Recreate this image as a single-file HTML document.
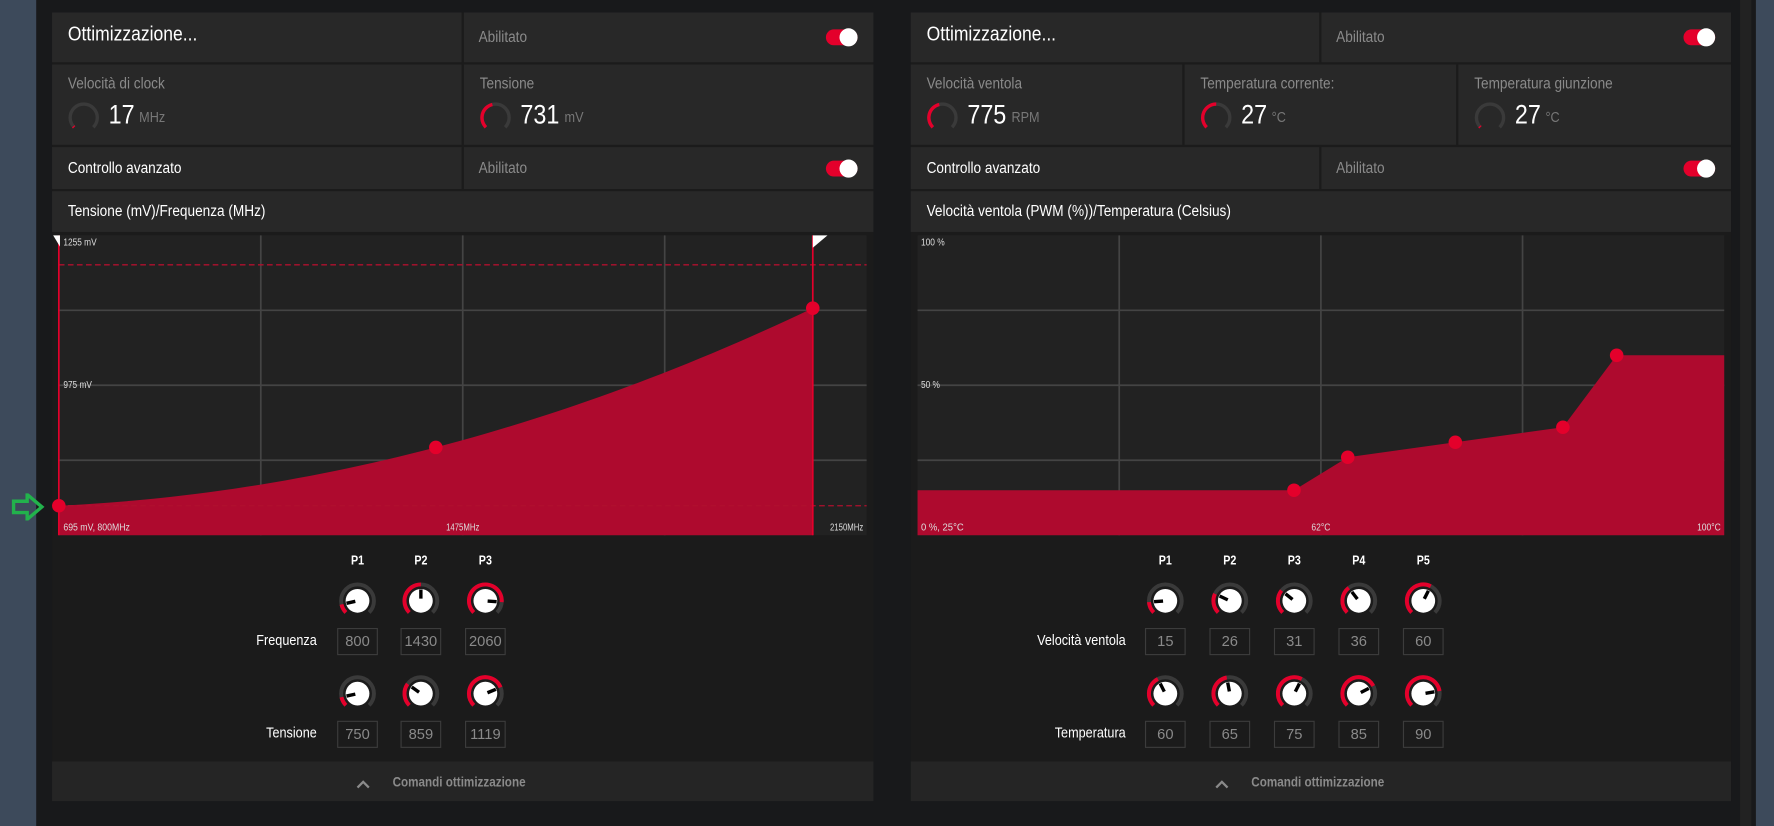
<!DOCTYPE html>
<html><head><meta charset="utf-8">
<style>
html,body{margin:0;padding:0;width:1774px;height:826px;overflow:hidden;background:#18191b;}
#root{position:absolute;left:0;top:0;width:1568px;height:730px;transform:scale(1.13138,1.13151);transform-origin:0 0;font-family:"Liberation Sans Narrow","Liberation Sans",sans-serif;background:#18191b;}
.abs{position:absolute;}
.cell{position:absolute;background:#282828;}
.t{position:absolute;white-space:nowrap;transform:scaleX(0.86);transform-origin:0 0;}
.tog{position:absolute;width:28px;height:14px;border-radius:7px;background:#e4002b;}
.tog::after{content:"";position:absolute;right:0;top:-1px;width:16px;height:16px;border-radius:8px;background:#fff;}
.box{position:absolute;width:34px;height:22px;border:1px solid #3c3c3c;color:#8a8a8a;font-size:13px;text-align:center;line-height:22px;}
</style></head><body>
<div id="root">
<div class="abs" style="left:0;top:0;width:32px;height:730px;background:#3d4a5b"></div>
<div class="abs" style="left:1552px;top:0;width:16px;height:730px;background:#3d4a5b"></div>
<div class="abs" style="left:1538px;top:0;width:10px;height:730px;background:#222"></div>
<div id="panels"></div>
<div class="abs" style="left:10px;top:436px;">
<svg width="30" height="24"><path d="M2 7 H14 V1 L27 12 L14 23 V17 H2 Z" fill="none" stroke="#22b24c" stroke-width="3"/></svg></div>
</div>
<script>
// ---- Chart data ----
const vfFreq = [800, 1430, 2060];
const vfVolt = [750, 859, 1119];
const vfXTicks = ["695 mV, 800MHz", "1475MHz", "2150MHz"];
const vfYTicks = ["1255 mV", "975 mV"];
const vfVoltMax = 1200;
const fanTemp = [60, 65, 75, 85, 90];
const fanSpeed = [15, 26, 31, 36, 60];
const fanXTicks = ["0 %, 25°C", "62°C", "100°C"];
const fanYTicks = ["100 %", "50 %"];
const NS="http://www.w3.org/2000/svg";
const root=document.getElementById('panels');
function div(cls,style,name,inter,text){const d=document.createElement('div');d.className=cls;d.style.cssText=style;


if(text!==undefined)d.textContent=text;root.appendChild(d);return d;}
function sv(tag,attrs,parent){const e=document.createElementNS(NS,tag);for(const k in attrs)e.setAttribute(k,attrs[k]);parent.appendChild(e);return e;}

function header(x,w,split){
 div('abs',`left:${x}px;top:11px;width:${w}px;height:697px;background:#1b1b1b`,'panel',false);
 div('cell',`left:${x}px;top:11px;width:${split-x-1}px;height:44px`,'panel-title-cell',false);
 div('t',`left:${x+14}px;top:20px;color:#fff;font-size:18px`,'panel-title',false,'Ottimizzazione...');
 div('cell',`left:${split+1}px;top:11px;width:${x+w-split-1}px;height:44px`,'enabled-cell',false);
 div('t',`left:${split+14}px;top:24px;color:#8a8a8a;font-size:14px`,'enabled-label',false,'Abilitato');
 div('tog',`left:${x+w-42}px;top:26px`,'tuning-toggle',true);
 div('cell',`left:${x}px;top:130px;width:${split-x-1}px;height:37px`,'advanced-control-cell',false);
 div('t',`left:${x+14}px;top:140px;color:#fff;font-size:14px`,'advanced-control-label',false,'Controllo avanzato');
 div('cell',`left:${split+1}px;top:130px;width:${x+w-split-1}px;height:37px`,'advanced-enabled-cell',false);
 div('t',`left:${split+14}px;top:140px;color:#8a8a8a;font-size:14px`,'advanced-enabled-label',false,'Abilitato');
 div('tog',`left:${x+w-42}px;top:142px`,'advanced-toggle',true);
 div('cell',`left:${x}px;top:169px;width:${w}px;height:36px`,'chart-title-cell',false);
 div('abs',`left:${x}px;top:673px;width:${w}px;height:35px;background:#252525`,'footer-bar',true);
 const c=div('abs',`left:${x+269}px;top:685px`,'footer-chevron',true);
 sv('path',{d:'M1 7 L6 2 L11 7',stroke:'#8a8a8a','stroke-width':2,fill:'none'},sv('svg',{width:12,height:9},c));
 div('t',`left:${x+301}px;top:684px;color:#8a8a8a;font-size:12px;font-weight:bold`,'footer-label',true,'Comandi ottimizzazione');
}
function stat(x,w,label,val,unit,frac){
 div('cell',`left:${x}px;top:57px;width:${w}px;height:71px`,'stat-cell',false);
 div('t',`left:${x+14}px;top:65px;color:#8a8a8a;font-size:14px`,'stat-label',false,label);
 const g=div('abs',`left:${x+13}px;top:89px`,'stat-gauge',false);
 const s=sv('svg',{width:30,height:30},g);
 gaugeArc(s,15,15,12,frac,3,'#3a3a3a','#e4002b');
 div('t',`left:${x+50}px;top:88px;color:#fff;font-size:24px`,'stat-value',false,val);
 div('t',`left:${x+50+val.length*11.5+4}px;top:96px;color:#777;font-size:13px`,'stat-unit',false,unit);
}
function arcPath(cx,cy,r,a0,a1){const p=a=>[cx+r*Math.sin(a),cy-r*Math.cos(a)];const [x0,y0]=p(a0),[x1,y1]=p(a1);
 return `M${x0} ${y0} A${r} ${r} 0 ${a1-a0>Math.PI?1:0} 1 ${x1} ${y1}`;}
function gaugeArc(s,cx,cy,r,frac,wd,bg,fg){const a0=-Math.PI*0.75,a1=Math.PI*0.75;
 sv('path',{d:arcPath(cx,cy,r,a0,a1),stroke:bg,'stroke-width':wd,fill:'none'},s);
 if(frac>0.005)sv('path',{d:arcPath(cx,cy,r,a0,a0+(a1-a0)*frac),stroke:fg,'stroke-width':wd,fill:'none'},s);}
function knob(cx,cy,frac){const g=div('abs',`left:${cx-17}px;top:${cy-17}px`,'knob',true);
 const s=sv('svg',{width:34,height:34},g);gaugeArc(s,17,17,14.5,frac,3.5,'#3a3a3a','#e4002b');
 sv('circle',{cx:17,cy:17,r:10.5,fill:'#fff'},s);
 const a=-Math.PI*0.75+Math.PI*1.5*frac;
 sv('line',{x1:17+2*Math.sin(a),y1:17-2*Math.cos(a),x2:17+10*Math.sin(a),y2:17-10*Math.cos(a),stroke:'#000','stroke-width':3},s);}

header(46,726,409);
header(805,725,1167);
div('t','left:60px;top:178px;color:#fff;font-size:14px','vf-chart-title',false,'Tensione (mV)/Frequenza (MHz)');
div('t','left:819px;top:178px;color:#fff;font-size:14px','fan-chart-title',false,'Velocità ventola (PWM (%))/Temperatura (Celsius)');
stat(46,362,'Velocità di clock','17','MHz',0.02);
stat(410,362,'Tensione','731','mV',0.45);
stat(805,240,'Velocità ventola','775','RPM',0.45);
stat(1047,240,'Temperatura corrente:','27','°C',0.5);
stat(1289,241,'Temperatura giunzione','27','°C',0.02);

function chart(x0,x1,y0,y1,name){const g=div('abs',`left:${x0}px;top:${y0}px;width:${x1-x0}px;height:${y1-y0}px;background:#222`,name,true);
 const s=sv('svg',{width:x1-x0,height:y1-y0,style:'position:absolute;left:0;top:0;overflow:visible'},g);
 const W=x1-x0,H=y1-y0;
 for(let i=1;i<4;i++){sv('line',{x1:W*i/4,x2:W*i/4,y1:0,y2:H,stroke:'#444','stroke-width':1.5},s);
  sv('line',{x1:0,x2:W,y1:H*i/4,y2:H*i/4,stroke:'#444','stroke-width':1.5},s);}
 return s;}
function txt(s,x,y,t,anchor,name){const e=sv('text',{x:x,y:y,fill:'#ddd','font-size':9,'text-anchor':anchor||'start','font-family':'Liberation Sans Narrow, Liberation Sans, sans-serif',textLength:t.length*4.2,lengthAdjust:'spacingAndGlyphs'},s);e.textContent=t;
 
 return e;}

// VF chart
{const W=714,H=265,s=chart(52,766,208,473,'vf-chart');
 const fx=f=>(f-800)/(2150-800)*W, vy=v=>H-(v-695)/(1255-695)*H;
 const L=t=>{const [a,b,c]=vfFreq,[A,B,C]=vfVolt;return A*(t-b)*(t-c)/((a-b)*(a-c))+B*(t-a)*(t-c)/((b-a)*(b-c))+C*(t-a)*(t-b)/((c-a)*(c-b));};
 let d=`M0 ${H} L0 ${vy(vfVolt[0])}`;const n=60;
 for(let i=0;i<=n;i++){const f=vfFreq[0]+(vfFreq[2]-vfFreq[0])*i/n;d+=` L${fx(f)} ${vy(L(f))}`;}
 d+=` L${fx(vfFreq[2])} ${H} Z`;
 const p=sv('path',{d:d,fill:'#ae0a2e'},s);
 [vy(vfVoltMax),vy(vfVolt[0])].forEach(y=>{sv('line',{x1:0,x2:W,y1:y,y2:y,stroke:'#b0102e','stroke-width':1.2,'stroke-dasharray':'5 3'},s);});
 [0,fx(vfFreq[2])].forEach(x=>{sv('line',{x1:x,x2:x,y1:0,y2:H,stroke:'#e4002b','stroke-width':1.5},s);});
 sv('path',{d:'M-5 0 H1 V10 Z',fill:'#fff'},s);
 sv('path',{d:`M${fx(vfFreq[2])} 0 H${fx(vfFreq[2])+13} L${fx(vfFreq[2])} 11 Z`,fill:'#fff'},s);
 vfFreq.forEach((f,i)=>{const c=sv('circle',{cx:fx(f),cy:vy(vfVolt[i]),r:6,fill:'#e4002b'},s);
  
  });
 txt(s,4,9,vfYTicks[0],'start','y-tick-top');txt(s,4,135,vfYTicks[1],'start','y-tick-mid');
 txt(s,4,261,vfXTicks[0],'start','x-tick-min');txt(s,W/2,261,vfXTicks[1],'middle','x-tick-mid');txt(s,W-3,261,vfXTicks[2],'end','x-tick-max');}
// Fan chart
{const W=713,H=265,s=chart(811,1524,208,473,'fan-chart');
 const tx=t=>(t-25)/75*W, py=p=>H-p/100*H;
 let d=`M0 ${H} L0 ${py(fanSpeed[0])}`;
 fanTemp.forEach((t,i)=>{d+=` L${tx(t)} ${py(fanSpeed[i])}`;});
 d+=` L${W} ${py(fanSpeed[fanSpeed.length-1])} L${W} ${H} Z`;
 const p=sv('path',{d:d,fill:'#ae0a2e'},s);
 fanTemp.forEach((t,i)=>{const c=sv('circle',{cx:tx(t),cy:py(fanSpeed[i]),r:6,fill:'#e4002b'},s);
  
  });
 txt(s,3,9,fanYTicks[0],'start','y-tick-top');txt(s,3,135,fanYTicks[1],'start','y-tick-mid');
 txt(s,3,261,fanXTicks[0],'start','x-tick-min');txt(s,W/2,261,fanXTicks[1],'middle','x-tick-mid');txt(s,W-3,261,fanXTicks[2],'end','x-tick-max');}

// knob sections
function knobs(xs,labels,rows,rowNames,labelRight){
 xs.forEach((x,i)=>div('t',`left:${x-10}px;top:490px;width:20px;text-align:center;color:#fff;font-size:11px;font-weight:bold;transform-origin:50% 0`,'point-header',false,labels[i]));
 rows.forEach((r,ri)=>{const ky=ri?613:531,by=ri?637:555;
  div('t',`left:${labelRight-150}px;top:${by+3}px;width:150px;text-align:right;color:#fff;font-size:13px;transform-origin:100% 0`,'row-label',false,rowNames[ri]);
  r.vals.forEach((v,i)=>{knob(xs[i],ky,r.frac[i]);div('box',`left:${xs[i]-18}px;top:${by}px`,'value-input',true,String(v));});});}
knobs([316,372,429],['P1','P2','P3'],[{vals:vfFreq,frac:[0.12,0.5,0.85]},{vals:vfVolt,frac:[0.12,0.3,0.75]}],['Frequenza','Tensione'],280);
knobs([1030,1087,1144,1201,1258],['P1','P2','P3','P4','P5'],[{vals:fanSpeed,frac:[0.15,0.26,0.31,0.36,0.6]},{vals:fanTemp,frac:[0.4,0.46,0.6,0.73,0.8]}],['Velocità ventola','Temperatura'],995);
</script>
</body></html>
